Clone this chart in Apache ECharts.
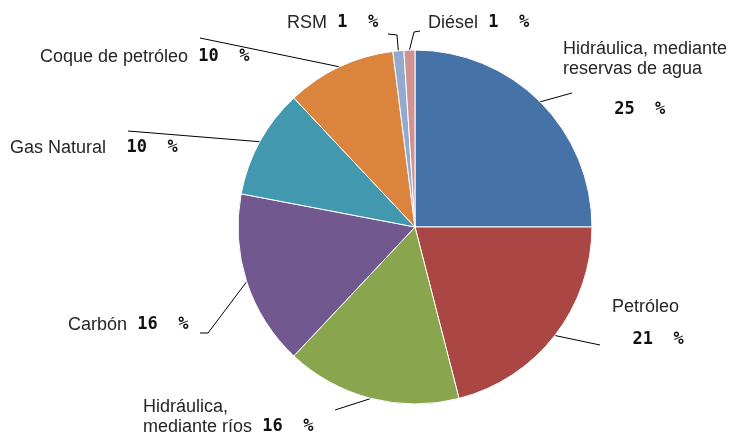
<!DOCTYPE html>
<html>
<head>
<meta charset="utf-8">
<script src="https://cdn.jsdelivr.net/npm/echarts@6/dist/echarts.min.js"></script>
<style>
  html, body { margin: 0; padding: 0; background: #fff; }
  #chart { width: 735px; height: 439px; }
</style>
</head>
<body>
<div id="chart"></div>
<script>
// fuentes de generación (en sentido horario desde las 12)
const categories = ['Hidráulica, mediante\nreservas de agua', 'Petróleo', 'Hidráulica,\nmediante ríos', 'Carbón', 'Gas Natural', 'Coque de petróleo', 'RSM', 'Diésel']
const shares = [25, 21, 16, 16, 10, 10, 1, 1]
const colors = ['#4572a7', '#aa4643', '#89a54e', '#71588f', '#4198af', '#db843d', '#93a9cf', '#d19392']

// cómo se separa el porcentaje del nombre (estilo rich y separador)
const pctStyle = ['pa', 'pb', 'p', 'p', 'p', 'p', 'p', 'p']
const pctGap = ['\n     ', '\n  ', ' ', ' ', '  ', ' ', ' ', ' ']

// posición de las etiquetas y extremo de las líneas guía
const labelSpots = [[563, 39], [612, 297], [143, 397], [68, 315], [10, 138], [40, 47], [287, 13], [428, 13]]
const guideEnds = [
  [[572, 93]],
  [[600, 345]],
  [[335, 410]],
  [[208, 333], [200, 333]],
  [[128, 131]],
  [[200, 38]],
  [[397, 35], [388, 34]],
  [[414, 32], [420, 31]]
]

const chart = echarts.init(document.getElementById('chart'))

function labelText(params) {
  const i = params.dataIndex
  const lines = params.name.split('\n').map(s => '{n|' + s + '}')
  const pct = Math.round(params.percent) + '  %'
  const gap = pctGap[i]
  if (gap.startsWith('\n')) {
    return lines.join('\n') + '\n{' + pctStyle[i] + '|' + gap.slice(1) + pct + '}'
  }
  return lines.join('\n') + '{' + pctStyle[i] + '|' + gap + pct + '}'
}

const monoFont = 'DejaVu Sans Mono, monospace'

const option = {
  animation: false,
  color: colors,
  series: [
    {
      type: 'pie',
      center: [415, 227],
      radius: 177,
      startAngle: 90,
      clockwise: true,
      data: categories.map((name, i) => ({ name: name, value: shares[i] })),
      itemStyle: { borderColor: '#ffffff', borderWidth: 1 },
      label: {
        show: true,
        position: 'outside',
        overflow: 'none',
        formatter: labelText,
        color: '#222',
        rich: {
          n: { fontFamily: 'Liberation Sans, Arial, sans-serif', fontSize: 18, lineHeight: 20, color: '#262626' },
          p: { fontFamily: monoFont, fontWeight: 'bold', fontSize: 17, lineHeight: 20, color: '#111' },
          pa: { fontFamily: monoFont, fontWeight: 'bold', fontSize: 17, lineHeight: 62, color: '#111' },
          pb: { fontFamily: monoFont, fontWeight: 'bold', fontSize: 17, lineHeight: 46, color: '#111' }
        }
      },
      labelLine: {
        show: true,
        lineStyle: { color: '#000', width: 1 }
      },
      labelLayout: function (params) {
        const i = params.dataIndex
        const start = params.labelLinePoints ? params.labelLinePoints[0] : null
        const out = {
          x: labelSpots[i][0],
          y: labelSpots[i][1],
          align: 'left',
          verticalAlign: 'top'
        }
        if (start) {
          out.labelLinePoints = [start].concat(guideEnds[i])
        }
        return out
      }
    }
  ]
}

chart.setOption(option)
</script>
</body>
</html>
